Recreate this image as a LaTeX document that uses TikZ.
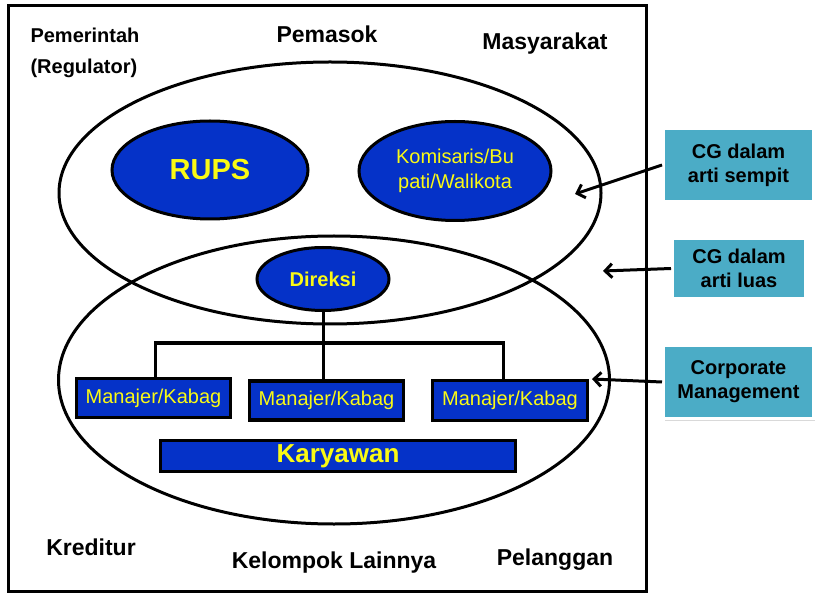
\documentclass[tikz,border=0pt]{standalone}
\usepackage{fontspec}
\setmainfont{Liberation Sans}
\usetikzlibrary{shapes,arrows,arrows.meta}
\usetikzlibrary{positioning,shadows}

\definecolor{biru}{RGB}{5,50,200}
\definecolor{kuning}{RGB}{250,250,20}
\definecolor{tosca}{RGB}{75,172,198}

\tikzset{
  elips/.style={ellipse, draw, line width=3pt, fill=biru, text=kuning, inner sep=0pt},
  kotak/.style={rectangle, draw, line width=3.2pt, fill=biru, text=kuning, inner sep=0pt},
  batas/.style={ellipse, draw, line width=3pt, inner sep=0pt},
  pihak/.style={font=\fontsize{23}{27}\selectfont\bfseries, anchor=base},
  kotakcg/.style={rectangle, draw=white, line width=3pt, fill=tosca, align=center,
    font=\fontsize{20}{24}\selectfont\bfseries, inner sep=0pt,
    drop shadow={opacity=0.3, shadow xshift=1.5pt, shadow yshift=-2pt}},
  garis/.style={line width=3pt},
  panah/.style={line width=3pt, -{Straight Barb[length=7pt,width=14pt]}},
}

\begin{document}
\begin{tikzpicture}[x=1pt, y=-1pt]
\useasboundingbox (0,0) rectangle (816,593);

% bingkai luar
\draw[line width=3pt] (8,6) rectangle (646,591);

% pihak-pihak luar
\node (pemerintah) [anchor=base west, align=left, font=\fontsize{20}{31}\selectfont\bfseries]
  at (27,74) {Pemerintah\\(Regulator)};
\node (pemasok) [pihak] at (327,43) {Pemasok};
\node (masyarakat) [pihak] at (545,50) {Masyarakat};
\node (kreditur) [pihak] at (91,555) {Kreditur};
\node (kelompok) [pihak] at (334,568) {Kelompok Lainnya};
\node (pelanggan) [pihak] at (555,565) {Pelanggan};

% dua lingkaran besar
\node (cg-sempit) [batas, minimum width=542pt, minimum height=262pt] at (330,193) {};
\node (cg-luas) [batas, minimum width=551pt, minimum height=288pt] at (334,380) {};

% organ perusahaan
\node (rups) [elips, minimum width=196pt, minimum height=98pt,
  font=\fontsize{29}{33}\selectfont\bfseries] at (210,170) {RUPS};
\node (komisaris) [elips, minimum width=192pt, minimum height=99pt, align=center,
  font=\fontsize{20}{25}\selectfont] at (455,171) {Komisaris/Bu\\pati/Walikota};
\node (direksi) [elips, minimum width=132pt, minimum height=63pt,
  font=\fontsize{20}{24}\selectfont\bfseries] at (323,279) {Direksi};

\node (mk-1) [kotak, minimum width=154pt, minimum height=39pt,
  font=\fontsize{20}{24}\selectfont] at (153.5,398) {Manajer/Kabag};
\node (mk-2) [kotak, minimum width=154pt, minimum height=39pt,
  font=\fontsize{20}{24}\selectfont] at (326.5,400.5) {Manajer/Kabag};
\node (mk-3) [kotak, minimum width=155pt, minimum height=40pt,
  font=\fontsize{20}{24}\selectfont] at (510,400.5) {Manajer/Kabag};
\node (karyawan) [kotak, minimum width=355pt, minimum height=31pt,
  font=\fontsize{26}{30}\selectfont\bfseries] at (338,456) {Karyawan};

% struktur
\coordinate (cabang) at (323,343);
\draw[garis] (direksi.south) -- (direksi.south |- mk-2.north);
\draw[garis] ([xshift=1.5pt]mk-1.north) |- (cabang) -| ([xshift=-7pt]mk-3.north);

% keterangan kanan
\node (ket-sempit) [kotakcg, minimum width=150pt, minimum height=73pt]
  at (738.5,165) {CG dalam\\arti sempit};
\node (ket-luas) [kotakcg, minimum width=133pt, minimum height=60pt]
  at (739,268.5) {CG dalam\\arti luas};
\node (ket-corp) [kotakcg, minimum width=150pt, minimum height=73pt]
  at (738.5,382) {Corporate\\Management};

\coordinate (ujung-sempit) at (575,194);
\coordinate (ujung-luas) at (603,271);
\coordinate (ujung-corp) at (592,379);

\draw[panah] (ket-sempit.west) -- (ujung-sempit);
\draw[panah] (ket-luas.west) -- (ujung-luas);
\draw[panah] (ket-corp.west) -- (ujung-corp);

\end{tikzpicture}
\end{document}
